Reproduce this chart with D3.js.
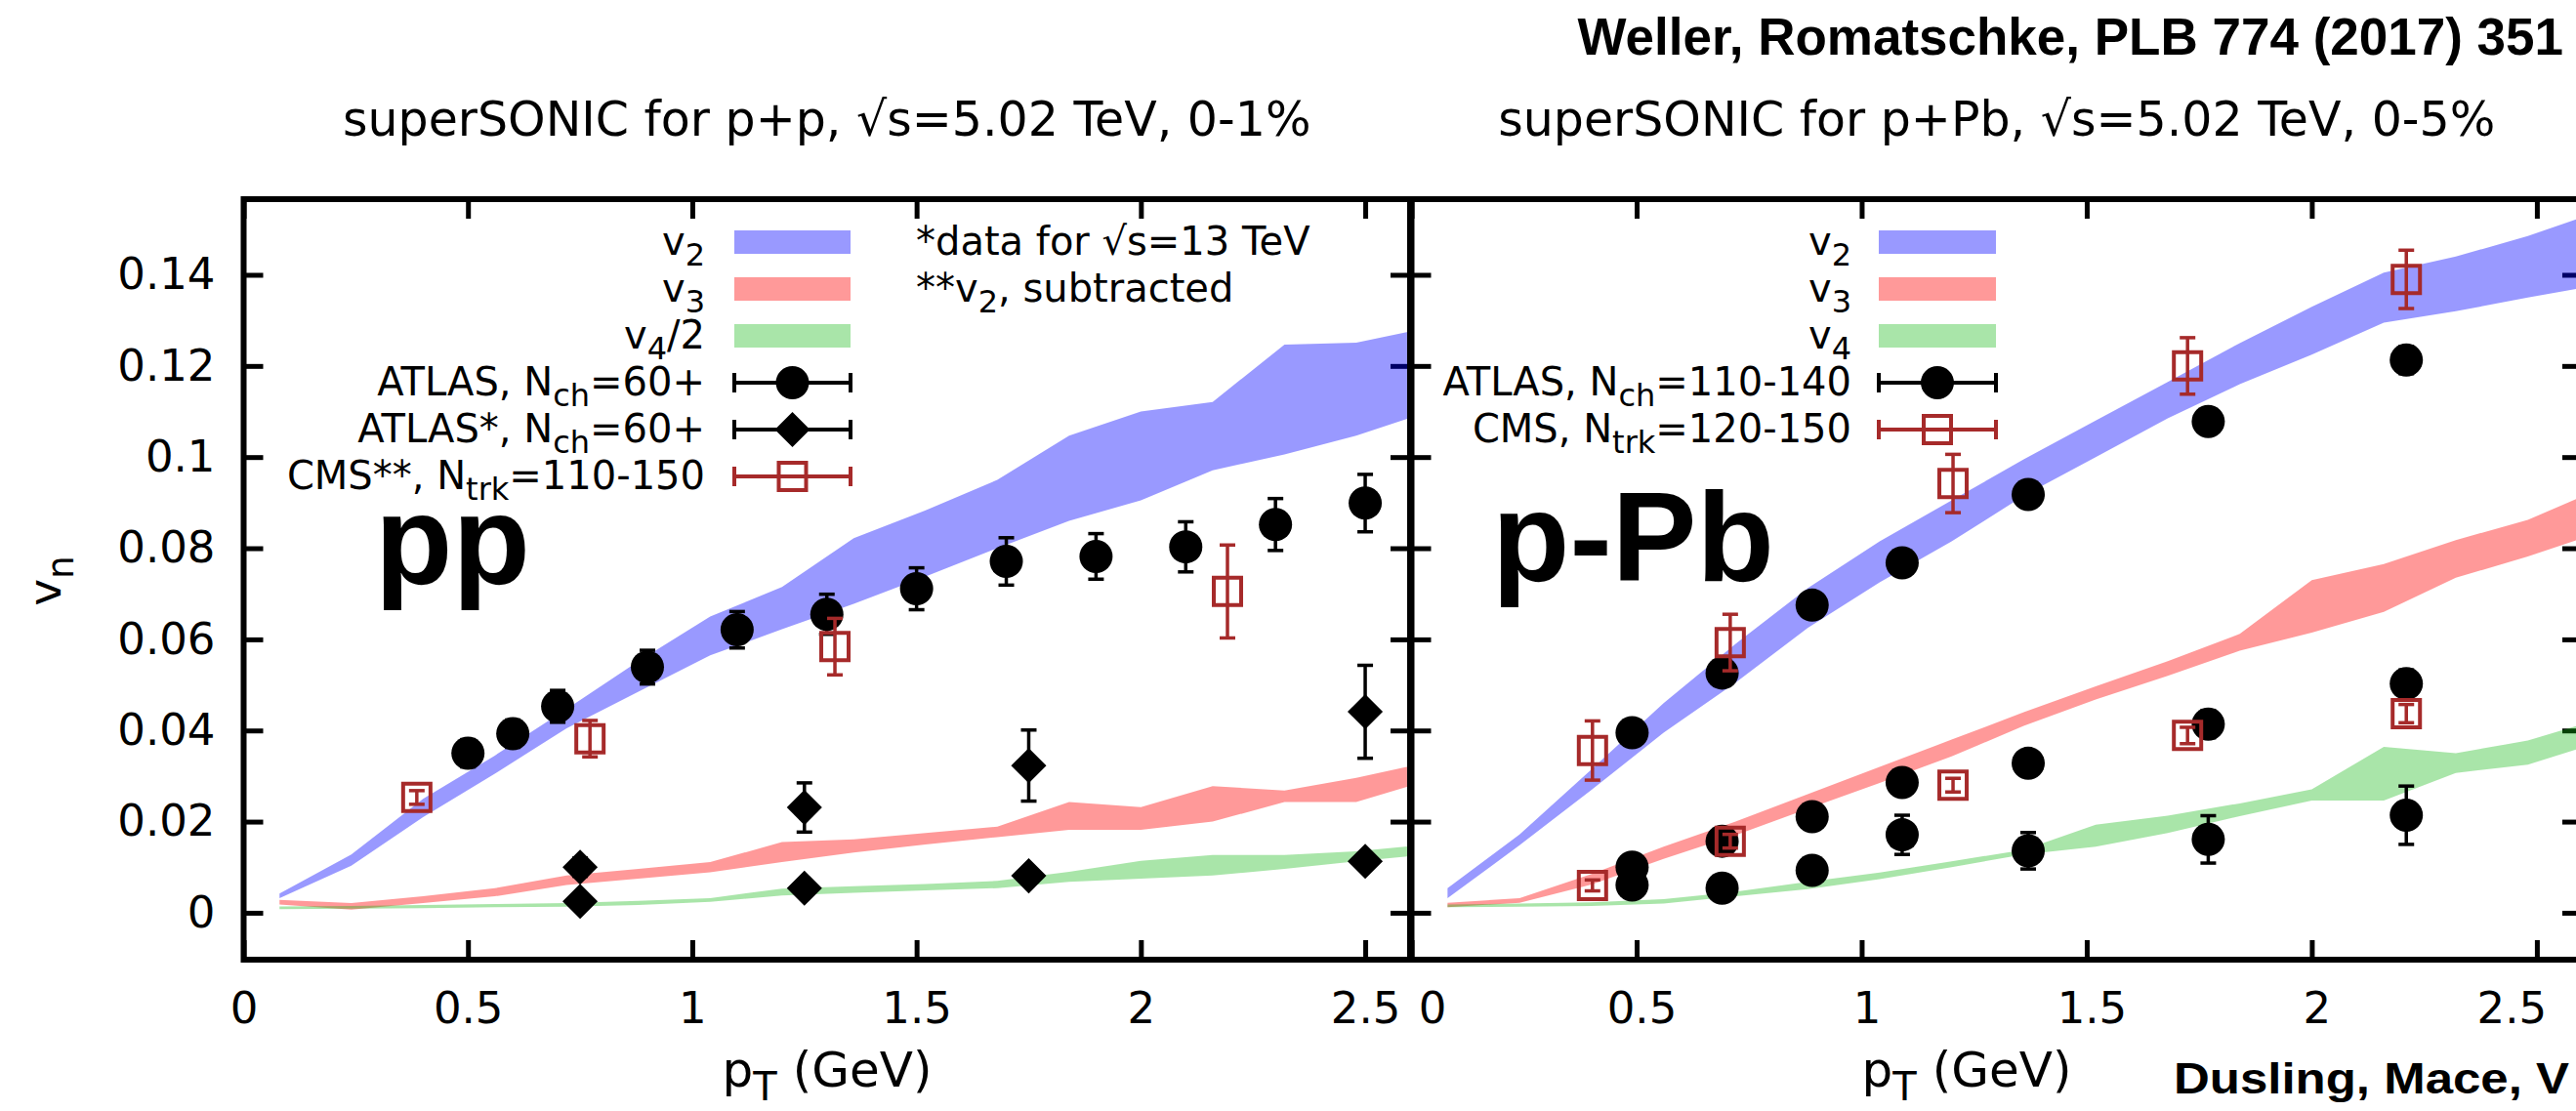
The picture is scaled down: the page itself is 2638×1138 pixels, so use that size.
<!DOCTYPE html>
<html>
<head>
<meta charset="utf-8">
<script src="https://cdn.jsdelivr.net/npm/d3@7"></script>
<style>
  html, body { margin: 0; padding: 0; background: #fff; }
  svg { display: block; }
</style>
</head>
<body>
<svg id="chart" width="2638" height="1138"></svg>
<script>
// ---------- model grid (pT in GeV) ----------
const bandPt = [0.08, 0.24, 0.40, 0.56, 0.72, 0.88, 1.04, 1.20, 1.36, 1.52, 1.68, 1.84, 2.00, 2.16, 2.32, 2.48, 2.64];

// superSONIC p+p, 0-1 %
const ppV2Hi = [0.0042, 0.0128, 0.0250, 0.0345, 0.0447, 0.0552, 0.0650, 0.0715, 0.0822, 0.0883, 0.0950, 0.1047, 0.1100, 0.1121, 0.1247, 0.1251, 0.1284];
const ppV2Lo = [0.0032, 0.0103, 0.0210, 0.0305, 0.0405, 0.0485, 0.0565, 0.0622, 0.0678, 0.0738, 0.0800, 0.0860, 0.0905, 0.0971, 0.1006, 0.1047, 0.1099];
const ppV3Hi = [0.0028, 0.0021, 0.0036, 0.0054, 0.0082, 0.0096, 0.0111, 0.0155, 0.0161, 0.0175, 0.0189, 0.0243, 0.0232, 0.0278, 0.0268, 0.0296, 0.0330];
const ppV3Lo = [0.0018, 0.0007, 0.0021, 0.0036, 0.0061, 0.0075, 0.0089, 0.0111, 0.0132, 0.0150, 0.0166, 0.0182, 0.0182, 0.0200, 0.0243, 0.0243, 0.0290];
const ppV4Hi = [0.0014, 0.0015, 0.0017, 0.0019, 0.0021, 0.0026, 0.0032, 0.0053, 0.0058, 0.0063, 0.0070, 0.0090, 0.0114, 0.0127, 0.0127, 0.0135, 0.0150];
const ppV4Lo = [0.0008, 0.0009, 0.0010, 0.0012, 0.0013, 0.0017, 0.0024, 0.0038, 0.0044, 0.0049, 0.0054, 0.0068, 0.0075, 0.0082, 0.0096, 0.0113, 0.0128];

// superSONIC p+Pb, 0-5 %
const pbV2Hi = [0.0054, 0.0172, 0.0315, 0.0460, 0.0590, 0.0712, 0.0815, 0.0905, 0.0995, 0.1080, 0.1165, 0.1250, 0.1330, 0.1405, 0.1440, 0.1485, 0.1540];
const pbV2Lo = [0.0032, 0.0148, 0.0270, 0.0395, 0.0505, 0.0625, 0.0725, 0.0815, 0.0915, 0.1000, 0.1085, 0.1160, 0.1225, 0.1295, 0.1320, 0.1350, 0.1378];
const pbV3Hi = [0.0022, 0.0032, 0.0085, 0.0145, 0.0200, 0.0260, 0.0320, 0.0380, 0.0440, 0.0497, 0.0552, 0.0612, 0.0730, 0.0765, 0.0818, 0.0862, 0.0930];
const pbV3Lo = [0.0012, 0.0022, 0.0062, 0.0118, 0.0170, 0.0228, 0.0285, 0.0343, 0.0410, 0.0468, 0.0520, 0.0575, 0.0615, 0.0660, 0.0735, 0.0782, 0.0835];
const pbV4Hi = [0.0018, 0.0020, 0.0023, 0.0030, 0.0046, 0.0068, 0.0088, 0.0113, 0.0138, 0.0193, 0.0213, 0.0240, 0.0271, 0.0364, 0.0350, 0.0378, 0.0425];
const pbV4Lo = [0.0012, 0.0013, 0.0015, 0.0020, 0.0036, 0.0052, 0.0074, 0.0100, 0.0128, 0.0145, 0.0175, 0.0212, 0.0246, 0.0246, 0.0307, 0.0325, 0.0375];

// ---------- measurements ----------
// p+p: ATLAS v2, Nch = 60+
const ppAtlasPt  = [0.5, 0.6, 0.7, 0.9, 1.1, 1.3, 1.5, 1.7, 1.9, 2.1, 2.3, 2.5];
const ppAtlasV2  = [0.0350, 0.0393, 0.0453, 0.0539, 0.0621, 0.0655, 0.0711, 0.0771, 0.0782, 0.0803, 0.0852, 0.0899];
const ppAtlasErr = [0.0030, 0.0030, 0.0035, 0.0037, 0.0040, 0.0044, 0.0046, 0.0052, 0.0050, 0.0055, 0.0057, 0.0063];
// p+p: ATLAS* (13 TeV) v3 and v4/2
const ppAtlasStarPt    = [0.75, 1.25, 1.75, 2.5];
const ppAtlasStarV3    = [0.0100, 0.0231, 0.0323, 0.0441];
const ppAtlasStarV3Err = [0.0020, 0.0054, 0.0078, 0.0102];
const ppAtlasStarV4    = [0.0025, 0.0054, 0.0081, 0.0113];
const ppAtlasStarV4Err = [0.0010, 0.0012, 0.0015, 0.0015];
// p+p: CMS** v2, Ntrk = 110-150
const ppCmsPt  = [0.386, 0.772, 1.318, 2.193];
const ppCmsV2  = [0.0253, 0.0382, 0.0584, 0.0705];
const ppCmsErr = [0.0015, 0.0040, 0.0062, 0.0102];

// p+Pb: ATLAS, Nch = 110-140
const pbAtlasPt    = [0.49, 0.69, 0.89, 1.09, 1.37, 1.77, 2.21];
const pbAtlasV2    = [0.0395, 0.0526, 0.0675, 0.0768, 0.0918, 0.1078, 0.1213];
const pbAtlasV2Err = [0.0020, 0.0020, 0.0020, 0.0020, 0.0020, 0.0020, 0.0030];
const pbAtlasV3    = [0.0100, 0.0157, 0.0211, 0.0286, 0.0328, 0.0414, 0.0503];
const pbAtlasV3Err = [0.0010, 0.0015, 0.0015, 0.0020, 0.0020, 0.0030, 0.0030];
const pbAtlasV4    = [0.0061, 0.0054, 0.0093, 0.0171, 0.0136, 0.0161, 0.0214];
const pbAtlasV4Err = [0.0010, 0.0015, 0.0020, 0.0043, 0.0040, 0.0052, 0.0064];
// p+Pb: CMS, Ntrk = 120-150
const pbCmsPt    = [0.402, 0.708, 1.203, 1.724, 2.210];
const pbCmsV2    = [0.0356, 0.0593, 0.0942, 0.1200, 0.1390];
const pbCmsV2Err = [0.0065, 0.0062, 0.0064, 0.0062, 0.0064];
const pbCmsV3    = [0.0060, 0.0157, 0.0280, 0.0389, 0.0437];
const pbCmsV3Err = [0.0012, 0.0015, 0.0015, 0.0018, 0.0020];

// ---------- axes ----------
const xTicks = [0, 0.5, 1, 1.5, 2, 2.5];
const xTickLabels = ["0", "0.5", "1", "1.5", "2", "2.5"];
const yTicks = [0, 0.02, 0.04, 0.06, 0.08, 0.1, 0.12, 0.14];
const yTickLabels = ["0", "0.02", "0.04", "0.06", "0.08", "0.1", "0.12", "0.14"];

// ---------- text ----------
const ppTitle = "superSONIC for p+p, √s=5.02 TeV, 0-1%";
const pbTitle = "superSONIC for p+Pb, √s=5.02 TeV, 0-5%";
const ppLegend = ["v_{2}", "v_{3}", "v_{4}/2", "ATLAS, N_{ch}=60+", "ATLAS*, N_{ch}=60+", "CMS**, N_{trk}=110-150"];
const ppNotes = ["*data for √s=13 TeV", "**v_{2}, subtracted"];
const pbLegend = ["v_{2}", "v_{3}", "v_{4}", "ATLAS, N_{ch}=110-140", "CMS, N_{trk}=120-150"];

// ---------- styling ----------
const FONT = "'DejaVu Sans', Verdana, sans-serif";
const BOLD = "'Liberation Sans', Arial, Helvetica, sans-serif";
const BLUE = "#0000ff", RED = "#ff0000", GREEN = "#10b810";
const CMS = "#a62a2a";
const TICK = 20;

const svg = d3.select("#chart");
svg.append("rect").attr("width", 2638).attr("height", 1138).attr("fill", "#fff");

const plotTop = 204, plotBottom = 983;
const y = d3.scaleLinear().domain([-0.0103, 0.1566]).range([plotBottom, plotTop]);

const zip = (xs, ys, es) => xs.map((p, i) => ({ p, v: ys[i], e: es ? es[i] : 0 }));
const band = (lo, hi) => bandPt.map((p, i) => ({ p, lo: lo[i], hi: hi[i] }));

// writes "a_{b}c" as text with subscript runs
function richText(sel, str, size) {
  const parts = str.split(/(_\{[^}]*\})/).filter(s => s.length);
  const drop = size * 0.27;
  let low = false;
  parts.forEach(part => {
    const sub = part.startsWith("_{");
    const t = sel.append("tspan").text(sub ? part.slice(2, -1) : part);
    if (sub) { t.attr("font-size", size * 0.8).attr("dy", drop); low = true; }
    else if (low) { t.attr("dy", -drop); low = false; }
  });
  return sel;
}

const panels = [
  {
    id: "pp",
    x: d3.scaleLinear().domain([0, 2.6]).range([249.5, 1444]),
    yLabels: true,
    labelShift: () => 0,
    bands: [
      { data: band(ppV2Lo, ppV2Hi), color: BLUE, op: 0.4 },
      { data: band(ppV3Lo, ppV3Hi), color: RED, op: 0.4 },
      { data: band(ppV4Lo, ppV4Hi), color: GREEN, op: 0.36 }
    ],
    points: [
      { data: zip(ppAtlasPt, ppAtlasV2, ppAtlasErr), shape: "circle", color: "#000" },
      { data: zip(ppAtlasStarPt, ppAtlasStarV3, ppAtlasStarV3Err), shape: "diamond", color: "#000" },
      { data: zip(ppAtlasStarPt, ppAtlasStarV4, ppAtlasStarV4Err), shape: "diamond", color: "#000" },
      { data: zip(ppCmsPt, ppCmsV2, ppCmsErr), shape: "square", color: CMS }
    ],
    title: ppTitle,
    tag: "pp", tagX: 384, tagY: 598,
    xLabelX: 847
  },
  {
    id: "pPb",
    x: d3.scaleLinear().domain([0, 2.6]).range([1445.5, 2644]),
    yLabels: false,
    labelShift: (i, n) => (i === 0 ? 21 : (i === n - 1 ? -26 : 5)),
    bands: [
      { data: band(pbV2Lo, pbV2Hi), color: BLUE, op: 0.4 },
      { data: band(pbV3Lo, pbV3Hi), color: RED, op: 0.4 },
      { data: band(pbV4Lo, pbV4Hi), color: GREEN, op: 0.36 }
    ],
    points: [
      { data: zip(pbAtlasPt, pbAtlasV2, pbAtlasV2Err), shape: "circle", color: "#000" },
      { data: zip(pbAtlasPt, pbAtlasV3, pbAtlasV3Err), shape: "circle", color: "#000" },
      { data: zip(pbAtlasPt, pbAtlasV4, pbAtlasV4Err), shape: "circle", color: "#000" },
      { data: zip(pbCmsPt, pbCmsV2, pbCmsV2Err), shape: "square", color: CMS },
      { data: zip(pbCmsPt, pbCmsV3, pbCmsV3Err), shape: "square", color: CMS }
    ],
    title: pbTitle,
    tag: "p-Pb", tagX: 1528, tagY: 595,
    xLabelX: 2014
  }
];

// marker drawing shared by the plots and legends
function marker(g, shape, color) {
  if (shape === "circle") {
    g.append("circle").attr("r", 17).attr("fill", color);
  } else if (shape === "diamond") {
    g.append("path").attr("d", d3.symbol(d3.symbolSquare, 650)()).attr("transform", "rotate(45)").attr("fill", color);
  } else {
    g.append("path").attr("d", d3.symbol(d3.symbolSquare, 784)()).attr("fill", "none")
      .attr("stroke", color).attr("stroke-width", 4);
  }
}

panels.forEach((P, pi) => {
  const g = svg.append("g").attr("class", "panel-" + P.id);
  const x = P.x;
  const [x0, x1] = x.range();

  // ticks on all four sides, pointing inward
  const styleAxis = a => {
    a.select(".domain").remove();
    a.attr("font-family", FONT).attr("font-size", 45);
    a.selectAll(".tick line").attr("stroke", "#000").attr("stroke-width", 5);
    a.selectAll(".tick text").attr("fill", "#000");
  };
  const ax = g.append("g").attr("class", "axes");
  ax.append("g").attr("transform", `translate(0,${plotBottom})`)
    .call(d3.axisBottom(x).tickValues(xTicks).tickSizeInner(-TICK).tickSizeOuter(0).tickPadding(33)
      .tickFormat((d, i) => xTickLabels[i]))
    .call(styleAxis)
    .call(a => a.selectAll(".tick text").attr("dx", (d, i) => P.labelShift(i, xTicks.length)));
  ax.append("g").attr("transform", `translate(0,${plotTop})`)
    .call(d3.axisTop(x).tickValues(xTicks).tickSizeInner(-TICK).tickSizeOuter(0).tickFormat(""))
    .call(styleAxis);
  ax.append("g").attr("transform", `translate(${x0},0)`)
    .call(d3.axisLeft(y).tickValues(yTicks).tickSizeInner(-TICK).tickSizeOuter(0).tickPadding(29)
      .tickFormat(P.yLabels ? (d, i) => yTickLabels[i] : ""))
    .call(styleAxis);
  ax.append("g").attr("transform", `translate(${x1},0)`)
    .call(d3.axisRight(y).tickValues(yTicks).tickSizeInner(-TICK).tickSizeOuter(0).tickFormat(""))
    .call(styleAxis);

  // model bands, clipped to the frame
  const clipId = "clip-" + P.id;
  g.append("clipPath").attr("id", clipId).append("rect")
    .attr("x", x0).attr("y", plotTop).attr("width", x1 - x0).attr("height", plotBottom - plotTop);
  const area = d3.area().x(d => x(d.p)).y0(d => y(d.lo)).y1(d => y(d.hi));
  const bands = g.append("g").attr("clip-path", `url(#${clipId})`);
  P.bands.forEach(b => {
    bands.append("path").datum(b.data).attr("d", area)
      .attr("fill", b.color).attr("fill-opacity", b.op);
  });

  // frame
  g.append("rect").attr("x", x0).attr("y", plotTop).attr("width", x1 - x0).attr("height", plotBottom - plotTop)
    .attr("fill", "none").attr("stroke", "#000").attr("stroke-width", 6);

  // data points with error bars
  const pts = g.append("g").attr("class", "points");
  P.points.forEach(s => {
    const sg = pts.append("g");
    const eb = sg.selectAll("g.err").data(s.data).join("g").attr("class", "err")
      .attr("stroke", s.color).attr("stroke-width", 3.5);
    eb.append("line").attr("x1", d => x(d.p)).attr("x2", d => x(d.p))
      .attr("y1", d => y(d.v - d.e)).attr("y2", d => y(d.v + d.e));
    eb.append("line").attr("x1", d => x(d.p) - 8).attr("x2", d => x(d.p) + 8)
      .attr("y1", d => y(d.v - d.e)).attr("y2", d => y(d.v - d.e));
    eb.append("line").attr("x1", d => x(d.p) - 8).attr("x2", d => x(d.p) + 8)
      .attr("y1", d => y(d.v + d.e)).attr("y2", d => y(d.v + d.e));
    sg.selectAll("g.mk").data(s.data).join("g").attr("class", "mk")
      .attr("transform", d => `translate(${x(d.p)},${y(d.v)})`)
      .each(function () { marker(d3.select(this), s.shape, s.color); });
  });

  // panel title
  svg.append("text").attr("x", (x0 + x1) / 2).attr("y", 139).attr("text-anchor", "middle")
    .attr("font-family", FONT).attr("font-size", 49).attr("fill", "#000").text(P.title);

  // x-axis label
  richText(svg.append("text").attr("x", P.xLabelX).attr("y", 1113).attr("text-anchor", "middle")
    .attr("font-family", FONT).attr("font-size", 50).attr("fill", "#000"), "p_{T} (GeV)", 50);

  // big system tag
  svg.append("text").attr("x", P.tagX).attr("y", P.tagY).attr("font-family", BOLD)
    .attr("font-weight", "bold").attr("font-size", 130).attr("fill", "#000").text(P.tag);
});

// y-axis label
richText(svg.append("text").attr("transform", "translate(62,595) rotate(-90)").attr("text-anchor", "middle")
  .attr("font-family", FONT).attr("font-size", 47).attr("fill", "#000"), "v_{n}", 47);

// ---------- legends ----------
function legend(labels, kinds, textRight, sampleLeft, sampleRight, rowTop) {
  const g = svg.append("g").attr("class", "legend");
  const rowH = 48;
  labels.forEach((lab, i) => {
    const cy = rowTop + i * rowH;
    richText(g.append("text").attr("x", textRight).attr("y", cy + 13).attr("text-anchor", "end")
      .attr("font-family", FONT).attr("font-size", 40).attr("fill", "#000"), lab, 40);
    const k = kinds[i];
    if (k.band) {
      g.append("rect").attr("x", sampleLeft).attr("y", cy - 12).attr("width", sampleRight - sampleLeft)
        .attr("height", 24).attr("fill", k.band).attr("fill-opacity", k.op);
    } else {
      const s = g.append("g").attr("stroke", k.color).attr("stroke-width", 4);
      s.append("line").attr("x1", sampleLeft).attr("x2", sampleRight).attr("y1", cy).attr("y2", cy);
      s.append("line").attr("x1", sampleLeft).attr("x2", sampleLeft).attr("y1", cy - 10).attr("y2", cy + 10);
      s.append("line").attr("x1", sampleRight).attr("x2", sampleRight).attr("y1", cy - 10).attr("y2", cy + 10);
      const m = g.append("g").attr("transform", `translate(${(sampleLeft + sampleRight) / 2},${cy})`);
      marker(m, k.shape, k.color);
    }
  });
}

legend(ppLegend, [
  { band: BLUE, op: 0.4 }, { band: RED, op: 0.4 }, { band: GREEN, op: 0.36 },
  { shape: "circle", color: "#000" }, { shape: "diamond", color: "#000" }, { shape: "square", color: CMS }
], 722, 752, 871, 248);

legend(pbLegend, [
  { band: BLUE, op: 0.4 }, { band: RED, op: 0.4 }, { band: GREEN, op: 0.36 },
  { shape: "circle", color: "#000" }, { shape: "square", color: CMS }
], 1896, 1924, 2044, 248);

ppNotes.forEach((note, i) => {
  richText(svg.append("text").attr("x", 938).attr("y", 261 + i * 48)
    .attr("font-family", FONT).attr("font-size", 40).attr("fill", "#000"), note, 40);
});

// ---------- references ----------
svg.append("text").attr("x", 2625).attr("y", 56).attr("text-anchor", "end")
  .attr("font-family", BOLD).attr("font-weight", "bold").attr("font-size", 53)
  .attr("fill", "#000").text("Weller, Romatschke, PLB 774 (2017) 351");

svg.append("text").attr("x", 2226).attr("y", 1120)
  .attr("font-family", BOLD).attr("font-weight", "bold").attr("font-size", 44)
  .attr("textLength", 405).attr("lengthAdjust", "spacingAndGlyphs")
  .attr("fill", "#000").text("Dusling, Mace, V");
</script>
</body>
</html>
